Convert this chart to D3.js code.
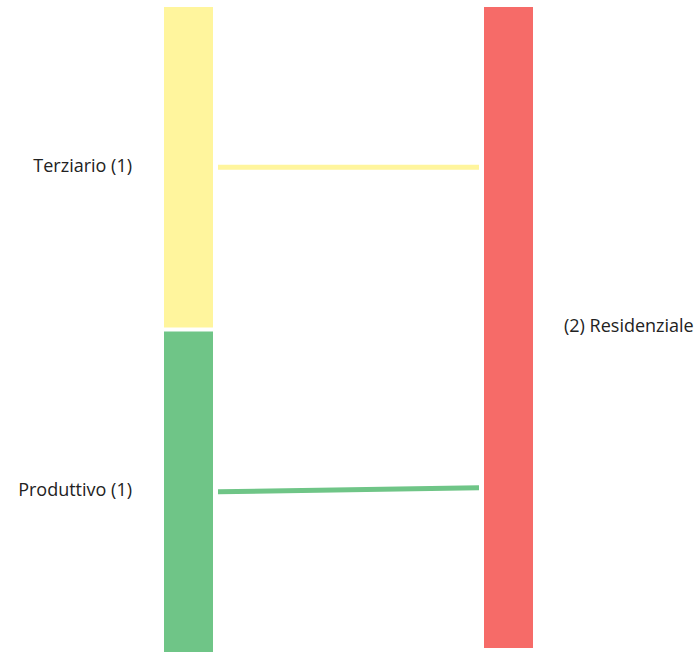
<!DOCTYPE html>
<html lang="it">
<head>
<meta charset="utf-8">
<title>Sankey</title>
<script src="https://cdn.jsdelivr.net/npm/d3@7"></script>
<style>
  body { margin: 0; background: #fff; }
  #chart { width: 696px; height: 652px; }
  text { font-family: "Open Sans", sans-serif; font-size: 18px; fill: #222; }
</style>
</head>
<body>
<div id="chart"></div>
<script>
// nodi e collegamenti
var leftNodes = ["Terziario", "Produttivo"];
var leftCounts = [1, 1];
var rightNodes = ["Residenziale"];
var rightCounts = [2];
var linkSources = ["Terziario", "Produttivo"];
var linkTargets = ["Residenziale", "Residenziale"];
var linkValues = [1, 1];
var nodeColors = {"Terziario": "#fff59d", "Produttivo": "#6fc587", "Residenziale": "#f66b68"};

var width = 696, height = 652;
var marginTop = 7, nodeW = 49, gap = 4, linkPad = 5;

var svg = d3.select("#chart").append("svg")
    .attr("width", width)
    .attr("height", height);

// colonne
var x = d3.scaleLinear().domain([0, 1]).range([164, 484]);

// scala valori -> pixel
var totalLeft = d3.sum(leftCounts);
var k = d3.scaleLinear().domain([0, totalLeft]).range([0, height - marginTop - gap * (leftNodes.length - 1)]);

function layout(names, counts, col) {
    var y = marginTop;
    return names.map(function(n, i) {
        var node = {name: n, count: counts[i], col: col, x0: x(col), x1: x(col) + nodeW, y0: y, y1: y + k(counts[i]), used: 0};
        y = node.y1 + gap;
        return node;
    });
}
var nodes = layout(leftNodes, leftCounts, 0).concat(layout(rightNodes, rightCounts, 1));
var byName = {};
nodes.forEach(function(n) { byName[n.name] = n; });

var links = linkValues.map(function(v, i) {
    var s = byName[linkSources[i]], t = byName[linkTargets[i]];
    var sy = s.y0 + k(s.used) + k(v) / 2; s.used += v;
    var ty = t.y0 + k(t.used) + k(v) / 2; t.used += v;
    return {source: s, target: t, sy: sy, ty: ty};
});

svg.append("g").selectAll("line")
    .data(links)
    .enter()
    .append("line")
    .attr("x1", function(d) { return d.source.x1 + linkPad; })
    .attr("x2", function(d) { return d.target.x0 - linkPad; })
    .attr("y1", function(d) { return d.sy; })
    .attr("y2", function(d) { return d.ty; })
    .style("stroke", function(d) { return nodeColors[d.source.name]; })
    .style("stroke-width", 5);

svg.append("g").selectAll("rect")
    .data(nodes)
    .enter()
    .append("rect")
    .attr("x", function(d) { return d.x0; })
    .attr("y", function(d) { return d.y0; })
    .attr("width", nodeW)
    .attr("height", function(d) { return d.y1 - d.y0; })
    .style("fill", function(d) { return nodeColors[d.name]; });

svg.append("g").selectAll("text")
    .data(nodes)
    .enter()
    .append("text")
    .attr("x", function(d) { return d.col === 0 ? d.x0 - 32 : d.x1 + 31; })
    .attr("y", function(d) { return (d.y0 + d.y1) / 2 - 2; })
    .attr("dy", "0.35em")
    .style("text-anchor", function(d) { return d.col === 0 ? "end" : "start"; })
    .text(function(d) {
        return d.col === 0 ? d.name + " (" + d.count + ")" : "(" + d.count + ") " + d.name;
    });
</script>
</body>
</html>
